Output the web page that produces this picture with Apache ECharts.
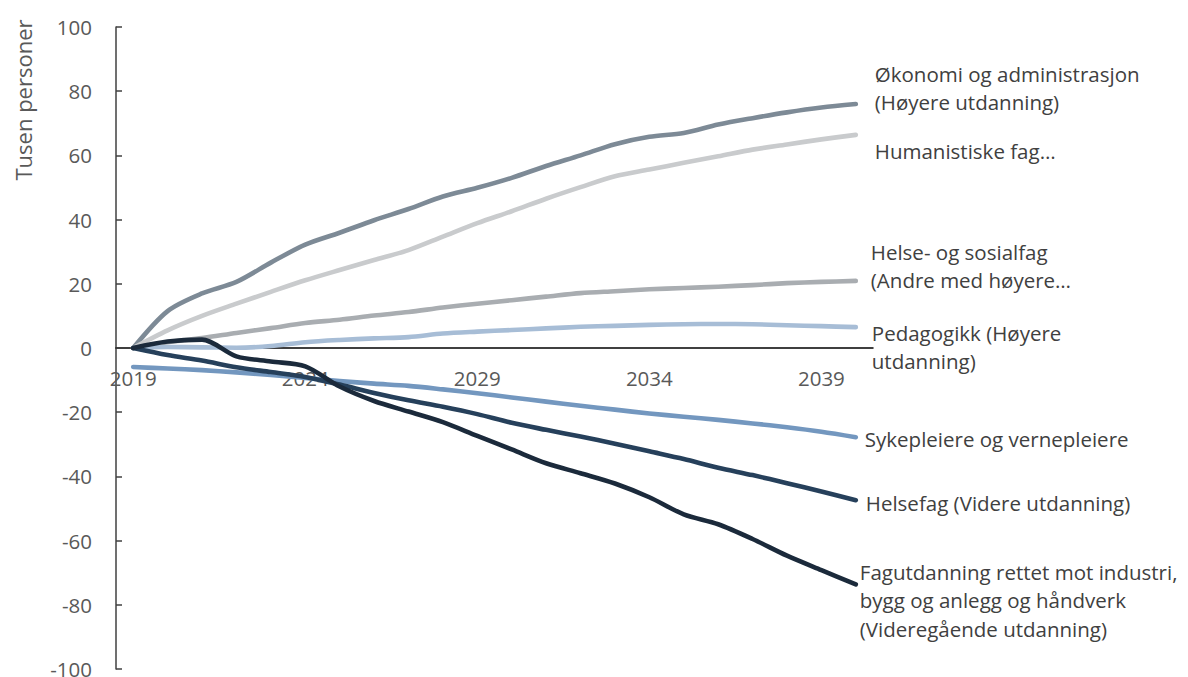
<!DOCTYPE html>
<html>
<head>
<meta charset="utf-8">
<script src="https://cdn.jsdelivr.net/npm/echarts@6.0.0/dist/echarts.min.js"></script>
<style>
  html, body { margin: 0; padding: 0; background: #ffffff; }
  #chart { width: 1188px; height: 677px; }
</style>
</head>
<body>
<div id="chart"></div>
<script>
// Years on the category axis
const years = ['2019','2020','2021','2022','2023','2024','2025','2026','2027','2028','2029',
               '2030','2031','2032','2033','2034','2035','2036','2037','2038','2039','2040'];

// Change in number of people (thousands), by education field
const okonomi      = [0, 11.5, 17.0, 20.6, 26.6, 32.2, 35.9, 39.8, 43.3, 47.2, 49.9, 53.0, 56.7, 60.0, 63.5, 65.8, 67.0, 69.6, 71.6, 73.4, 74.9, 76.0];
const humanistiske = [0, 5.5, 10.0, 13.8, 17.5, 21.1, 24.3, 27.4, 30.5, 34.7, 38.9, 42.6, 46.5, 50.1, 53.5, 55.6, 57.7, 59.7, 61.8, 63.4, 65.0, 66.4];
const helseSosial  = [0, 1.8, 3.1, 4.7, 6.2, 7.8, 8.8, 10.1, 11.2, 12.6, 13.8, 14.9, 16.0, 17.1, 17.7, 18.3, 18.7, 19.1, 19.6, 20.2, 20.6, 20.9];
const pedagogikk   = [0, 0.3, 0.2, 0.1, 0.6, 1.8, 2.5, 3.0, 3.4, 4.5, 5.1, 5.6, 6.1, 6.6, 6.9, 7.2, 7.4, 7.5, 7.4, 7.1, 6.8, 6.5];
const sykepleiere  = [-5.9, -6.4, -6.9, -7.6, -8.4, -9.3, -10.3, -11.1, -11.8, -12.9, -14.1, -15.4, -16.7, -18.0, -19.2, -20.4, -21.4, -22.4, -23.5, -24.7, -26.1, -27.8];
const helsefag     = [0, -2.2, -3.9, -6.0, -7.5, -9.0, -11.4, -14.0, -16.3, -18.3, -20.6, -23.3, -25.5, -27.6, -29.8, -32.2, -34.6, -37.3, -39.6, -42.1, -44.7, -47.4];
const fagutdanning = [0, 2.0, 2.6, -2.6, -4.2, -5.7, -12.0, -16.5, -19.8, -23.1, -27.4, -31.6, -35.9, -39.0, -42.2, -46.5, -51.8, -54.9, -59.5, -64.7, -69.2, -73.6];

// Series names shown as end labels
const labels = [
  'Økonomi og administrasjon\n(Høyere utdanning)',
  'Humanistiske fag…',
  'Helse- og sosialfag\n(Andre med høyere…',
  'Pedagogikk (Høyere\nutdanning)',
  'Sykepleiere og vernepleiere',
  'Helsefag (Videre utdanning)',
  'Fagutdanning rettet mot industri,\nbygg og anlegg og håndverk\n(Videregående utdanning)'
];

// Y axis
const yMin = -100, yMax = 100, yStep = 20;

const FONT = '"Open Sans", "Noto Sans", sans-serif';

// Plot box
const PLOT = { left: 116, right: 315, top: 27, bottom: 8 };
const PLOT_H = 677 - PLOT.top - PLOT.bottom;
// Pixel row of value 0, where the year labels hang
const zeroY = PLOT.top + PLOT_H * (yMax - 0) / (yMax - yMin);

function lineSeries(name, data, color, labelOffset) {
  return {
    name: name,
    type: 'line',
    xAxisIndex: 0,
    yAxisIndex: 0,
    data: data,
    smooth: 0.3,
    showSymbol: false,
    symbol: 'none',
    lineStyle: { color: color, width: 4.6, cap: 'round', join: 'round' },
    itemStyle: { color: color },
    endLabel: {
      show: true,
      formatter: function (p) { return p.seriesName; },
      color: '#404040',
      fontFamily: FONT,
      fontSize: 20.5,
      lineHeight: 28.5,
      align: 'left',
      verticalAlign: 'middle',
      distance: 0,
      offset: labelOffset
    },
    emphasis: { disabled: true },
    z: 2
  };
}

const chart = echarts.init(document.getElementById('chart'), null, { renderer: 'svg' });

chart.setOption({
  animation: false,
  backgroundColor: '#ffffff',
  grid: [
    { left: PLOT.left, right: PLOT.right, top: PLOT.top, bottom: PLOT.bottom,
      containLabel: false, outerBoundsMode: 'none' },
    // Upper half only: its bottom edge sits on the zero line and carries the year labels
    { left: PLOT.left, right: PLOT.right, top: PLOT.top, bottom: 677 - zeroY,
      containLabel: false, outerBoundsMode: 'none' }
  ],
  xAxis: [{
    gridIndex: 0,
    type: 'category',
    data: years,
    boundaryGap: true,
    axisLine: { onZero: true, lineStyle: { color: '#000000', width: 1.5 } },
    axisTick: { show: false },
    axisLabel: { show: false },
    splitLine: { show: false }
  }, {
    gridIndex: 1,
    type: 'category',
    data: years,
    boundaryGap: true,
    axisLine: { show: false },
    axisTick: { show: false },
    axisLabel: {
      interval: 4,
      margin: 19,
      color: '#595959',
      fontFamily: FONT,
      fontSize: 20.5
    },
    splitLine: { show: false }
  }],
  yAxis: [{
    gridIndex: 0,
    type: 'value',
    min: yMin,
    max: yMax,
    interval: yStep,
    axisLine: { show: true, onZero: false, lineStyle: { color: '#404040', width: 1.5 } },
    axisTick: { show: true, inside: true, length: 6, lineStyle: { color: '#404040', width: 1.5 } },
    axisLabel: {
      margin: 24,
      color: '#595959',
      fontFamily: FONT,
      fontSize: 20.5
    },
    splitLine: { show: false }
  }, {
    gridIndex: 1,
    type: 'value',
    min: 0,
    max: 1,
    show: false
  }],
  graphic: [{
    type: 'text',
    x: 23,
    y: 100,
    rotation: Math.PI / 2,
    style: {
      text: 'Tusen personer',
      fill: '#595959',
      font: '22px ' + FONT,
      textAlign: 'center',
      textVerticalAlign: 'middle'
    }
  }],
  series: [
    lineSeries(labels[0], okonomi,      '#7d8a96', [19, -16]),
    lineSeries(labels[1], humanistiske, '#c9cbcd', [19, 16]),
    lineSeries(labels[2], helseSosial,  '#a9adb1', [15, -15]),
    lineSeries(labels[3], pedagogikk,   '#a7bdd6', [16, 20]),
    lineSeries(labels[4], sykepleiere,  '#7397bf', [9, 2]),
    lineSeries(labels[5], helsefag,     '#26405b', [10, 3]),
    lineSeries(labels[6], fagutdanning, '#1b2a3b', [4, 16])
  ]
});
</script>
</body>
</html>
